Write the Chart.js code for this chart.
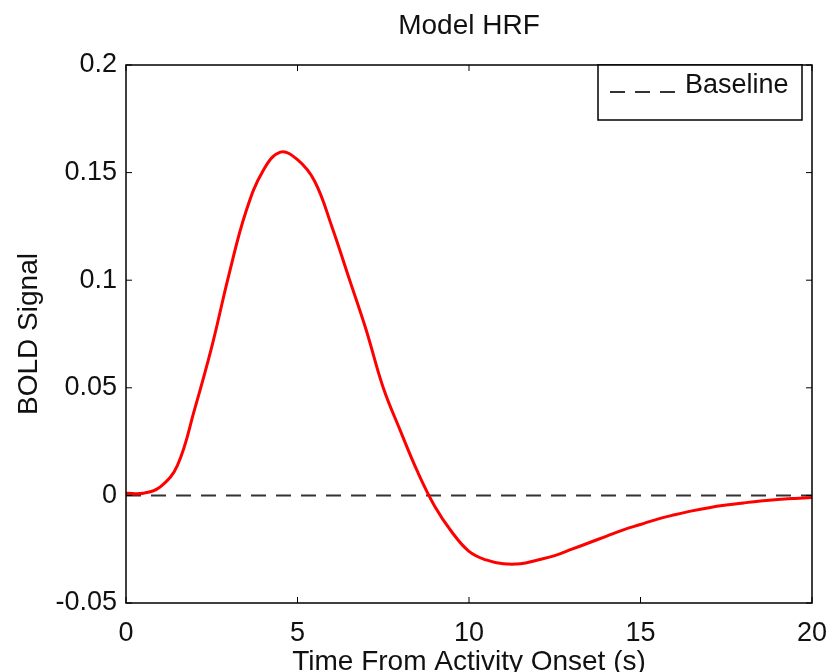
<!DOCTYPE html>
<html>
<head>
<meta charset="utf-8">
<title>Model HRF</title>
<script src="https://cdn.jsdelivr.net/npm/chart.js@4.4.0/dist/chart.umd.min.js"></script>
<style>
    html, body { margin: 0; padding: 0; background: #fff; }
</style>
</head>
<body>
<canvas id="hrf" width="829" height="672"></canvas>
<script>
"use strict";

/* data */
var timeSec = [0, 0.5, 1, 1.5, 2, 2.5, 3, 3.5, 4, 4.5, 5, 5.5, 6, 6.5, 7, 7.5, 8, 8.5, 9, 9.5,
    10, 10.5, 11, 11.5, 12, 12.5, 13, 13.5, 14, 14.5, 15, 15.5, 16, 16.5, 17, 17.5, 18, 18.5, 19, 19.5, 20];
var boldSignal = [0.001, 0.001, 0.004, 0.014, 0.040, 0.069, 0.1025, 0.132, 0.151, 0.1595, 0.156, 0.146, 0.125, 0.101, 0.077, 0.050, 0.030, 0.011, -0.005, -0.017,
    -0.026, -0.030, -0.0318, -0.0318, -0.030, -0.028, -0.025, -0.022, -0.019, -0.016, -0.0135, -0.011, -0.009, -0.0072, -0.0057, -0.0045, -0.0035, -0.0026, -0.0019, -0.0014, -0.001];
var baselineX = [0, 20];
var baselineY = [0, 0];
var xTicks = [0, 5, 10, 15, 20];
var xTickLabels = ['0', '5', '10', '15', '20'];
var yTicks = [-0.05, 0, 0.05, 0.1, 0.15, 0.2];
var yTickLabels = ['-0.05', '0', '0.05', '0.1', '0.15', '0.2'];

var FONT = '"Liberation Sans", Arial, Helvetica, sans-serif';

function toPoints(xs, ys) {
    return xs.map(function (x, i) { return { x: x, y: ys[i] }; });
}

/* matlab style box, inward ticks, title and legend */
var matlabAxes = {
    id: 'matlabAxes',
    afterDraw: function (chart) {
        var ctx = chart.ctx;
        var a = chart.chartArea;
        var xs = chart.scales.x, ys = chart.scales.y;
        var tl = 6;
        ctx.save();
        ctx.strokeStyle = '#000';
        ctx.lineWidth = 1.5;
        ctx.strokeRect(a.left, a.top, a.right - a.left, a.bottom - a.top);
        ctx.beginPath();
        xTicks.forEach(function (v) {
            var px = xs.getPixelForValue(v);
            ctx.moveTo(px, a.bottom); ctx.lineTo(px, a.bottom - tl);
            ctx.moveTo(px, a.top); ctx.lineTo(px, a.top + tl);
        });
        yTicks.forEach(function (v) {
            var py = ys.getPixelForValue(v);
            ctx.moveTo(a.left, py); ctx.lineTo(a.left + tl, py);
            ctx.moveTo(a.right, py); ctx.lineTo(a.right - tl, py);
        });
        ctx.lineWidth = 1;
        ctx.stroke();

        // title
        ctx.fillStyle = '#111';
        ctx.font = '28px ' + FONT;
        ctx.textAlign = 'center';
        ctx.textBaseline = 'middle';
        ctx.fillText('Model HRF', (a.left + a.right) / 2, 26);

        // legend, only the datasets flagged for it
        var items = chart.data.datasets.filter(function (d) { return d.inLegend; });
        var bx = a.right - 214, by = a.top, bw = 204, bh = 55;
        ctx.fillStyle = '#fff';
        ctx.fillRect(bx, by, bw, bh);
        ctx.strokeStyle = '#000';
        ctx.lineWidth = 1.5;
        ctx.strokeRect(bx, by, bw, bh);
        items.forEach(function (d) {
            ctx.beginPath();
            ctx.setLineDash(d.borderDash || []);
            ctx.strokeStyle = d.borderColor;
            ctx.lineWidth = d.borderWidth;
            ctx.moveTo(bx + 12, by + 27);
            ctx.lineTo(bx + 80, by + 27);
            ctx.stroke();
            ctx.setLineDash([]);
            ctx.fillStyle = '#111';
            ctx.font = '27px ' + FONT;
            ctx.textAlign = 'left';
            ctx.fillText(d.label, bx + 87, by + 21);
        });
        ctx.restore();
    }
};

var ctx = document.getElementById('hrf').getContext('2d');
var hrfChart = new Chart(ctx, {
    type: 'line',
    data: {
        datasets: [{
            label: 'HRF',
            data: toPoints(timeSec, boldSignal),
            borderColor: '#ff0000',
            borderWidth: 3,
            pointRadius: 0,
            tension: 0.4,
            fill: false
        }, {
            label: 'Baseline',
            inLegend: true,
            data: toPoints(baselineX, baselineY),
            borderColor: '#333333',
            borderWidth: 2,
            borderDash: [15, 10],
            pointRadius: 0,
            fill: false
        }]
    },
    options: {
        responsive: false,
        animation: false,
        events: [],
        layout: { padding: { top: 65, right: 17, left: 0, bottom: 0 } },
        plugins: {
            legend: { display: false },
            title: { display: false },
            tooltip: { enabled: false }
        },
        scales: {
            x: {
                type: 'linear',
                min: 0,
                max: 20,
                afterBuildTicks: function (scale) {
                    scale.ticks = xTicks.map(function (v) { return { value: v }; });
                },
                afterFit: function (scale) {
                    scale.height = 69;
                    // let the end labels hang past the plot box like matlab does
                    scale.paddingLeft = 0;
                    scale.paddingRight = 0;
                },
                grid: { display: false, drawTicks: false },
                border: { display: false },
                ticks: {
                    color: '#111',
                    padding: 14,
                    maxRotation: 0,
                    font: { family: FONT, size: 27 },
                    callback: function (v, i) { return xTickLabels[i]; }
                },
                title: {
                    display: true,
                    text: 'Time From Activity Onset (s)',
                    color: '#111',
                    font: { family: FONT, size: 28 },
                    padding: { top: 0, bottom: -7 }
                }
            },
            y: {
                type: 'linear',
                min: -0.05,
                max: 0.2,
                afterBuildTicks: function (scale) {
                    scale.ticks = yTicks.map(function (v) { return { value: v }; });
                },
                afterFit: function (scale) { scale.width = 126; },
                grid: { display: false, drawTicks: false },
                border: { display: false },
                ticks: {
                    color: '#111',
                    padding: 9,
                    font: { family: FONT, size: 27 },
                    callback: function (v, i) { return yTickLabels[i]; }
                },
                title: {
                    display: true,
                    text: 'BOLD Signal',
                    color: '#111',
                    font: { family: FONT, size: 28 },
                    padding: { top: 12, bottom: 0 }
                }
            }
        }
    },
    plugins: [matlabAxes]
});
</script>
</body>
</html>
